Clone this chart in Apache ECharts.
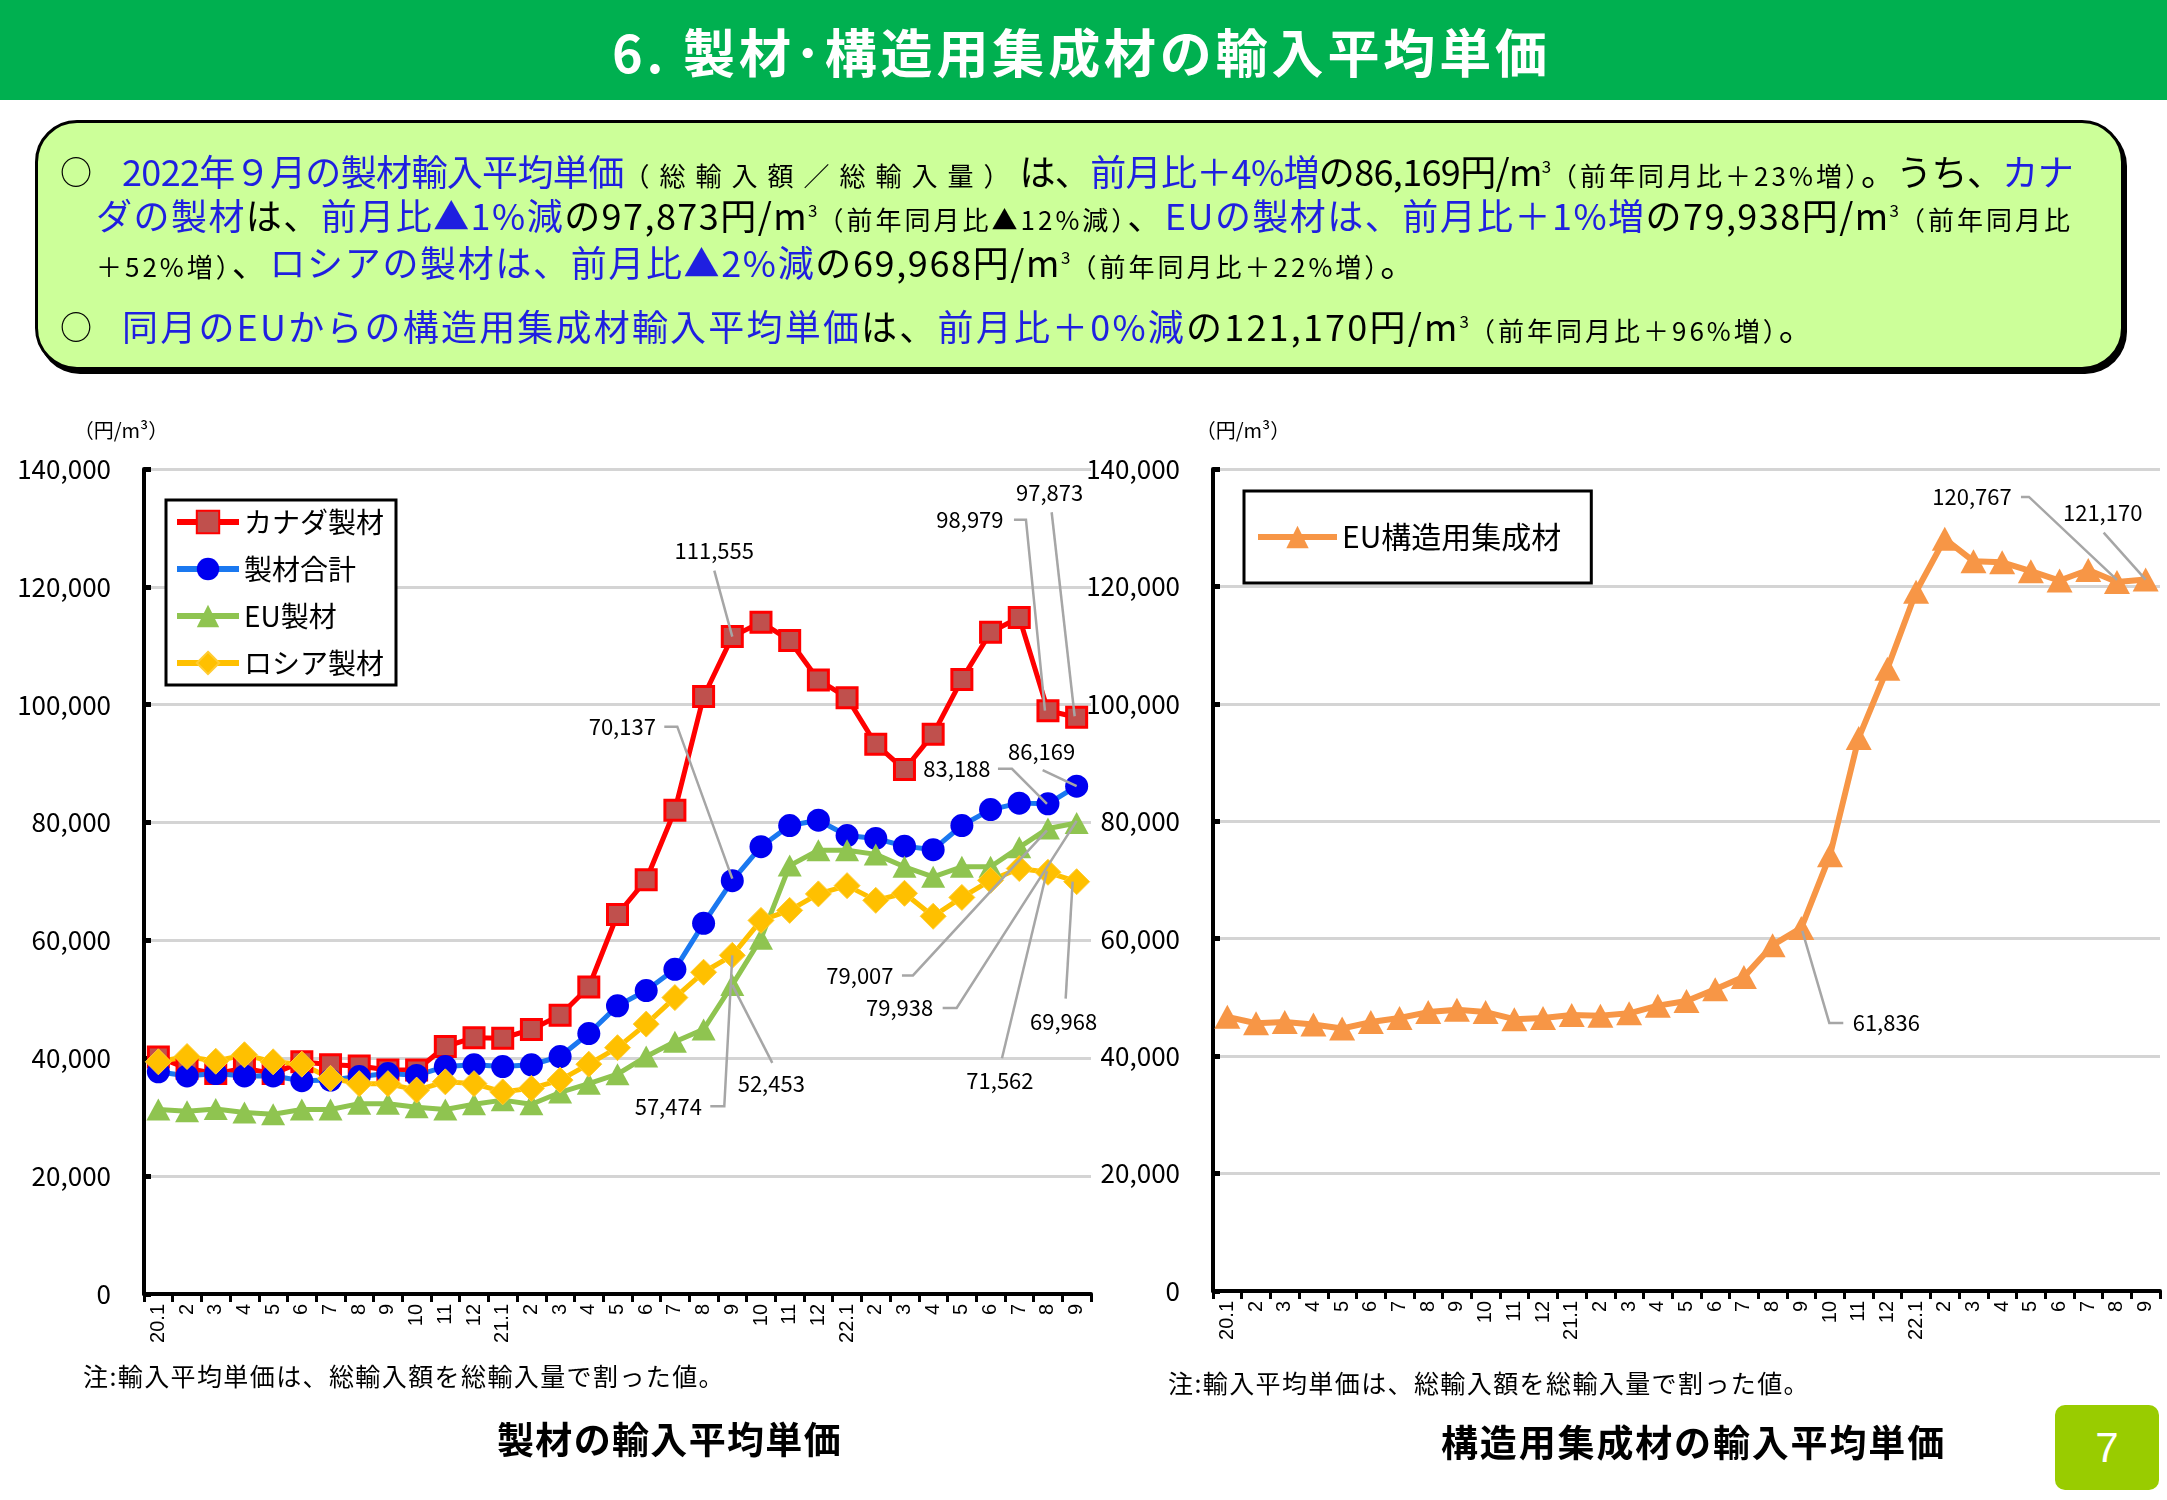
<!DOCTYPE html>
<html><head><meta charset="utf-8">
<script src="https://cdn.jsdelivr.net/npm/echarts@6/dist/echarts.min.js"></script>
<style>
body{margin:0;width:2167px;height:1500px;position:relative;background:#fff;font-family:"Noto Sans CJK JP","Noto Sans",sans-serif;overflow:hidden}
#chart{position:absolute;left:0;top:0;width:2167px;height:1500px}
.header{position:absolute;left:0;top:0;width:2167px;height:100px;background:#00b050}
.title{position:absolute;left:612px;top:20px;white-space:nowrap;color:#fff;font-weight:bold;font-size:52px;line-height:62px}
.box{position:absolute;left:35px;top:120px;width:2083px;height:244px;border:3px solid #000;border-radius:42px;background:#ccff99;box-shadow:3px 4px 0 #000}
.line{position:absolute;white-space:nowrap;font-size:36px;line-height:40px;color:#000}
.circ{position:absolute;font-size:32px;line-height:40px;color:#000}
.b{color:#1f1fe0}
.s{font-size:26px;letter-spacing:3px}
.s2{letter-spacing:10px}
sup{font-size:17px;vertical-align:top;position:relative;top:-4px;letter-spacing:0}
.note{position:absolute;white-space:nowrap;font-size:25px;line-height:32px;color:#000}
.ctitle{position:absolute;white-space:nowrap;font-size:37px;font-weight:bold;line-height:46px;color:#000}
.page{position:absolute;left:2055px;top:1405px;width:104px;height:85px;background:#99cc00;border-radius:10px;color:#fff;font-size:42px;line-height:85px;text-align:center;font-family:"Liberation Sans",sans-serif}
</style></head>
<body>
<div id="chart"></div>
<div class="header"></div>
<div class="title fit" data-w="939">6. 製材･構造用集成材の輸入平均単価</div>
<div class="box"></div>
<div class="circ" style="left:60px;top:150px">○</div>
<div class="circ" style="left:60px;top:305px">○</div>
<div class="line fit" style="left:122px;top:150px" data-w="1951"><span class="b">2022年９月の製材輸入平均単価</span><span class="s s2">（総輸入額／総輸入量）</span>は、<span class="b">前月比＋4%増</span>の86,169円/m<sup>3</sup><span class="s">（前年同月比＋23%増）</span>。うち、<span class="b">カナ</span></div>
<div class="line fit" style="left:96px;top:194px" data-w="1977"><span class="b">ダの製材</span>は、<span class="b">前月比▲1%減</span>の97,873円/m<sup>3</sup><span class="s">（前年同月比▲12%減）</span>、<span class="b">EUの製材は、前月比＋1%増</span>の79,938円/m<sup>3</sup><span class="s">（前年同月比</span></div>
<div class="line fit" style="left:96px;top:241px" data-w="1322"><span class="s">＋52%増）</span>、<span class="b">ロシアの製材は、前月比▲2%減</span>の69,968円/m<sup>3</sup><span class="s">（前年同月比＋22%増）</span>。</div>
<div class="line fit" style="left:122px;top:305px" data-w="1695"><span class="b">同月のEUからの構造用集成材輸入平均単価</span>は、<span class="b">前月比＋0%減</span>の121,170円/m<sup>3</sup><span class="s">（前年同月比＋96%増）</span>。</div>
<div class="note fit" style="left:83px;top:1359px" data-w="642">注:輸入平均単価は、総輸入額を総輸入量で割った値。</div>
<div class="note fit" style="left:1168px;top:1366px" data-w="642">注:輸入平均単価は、総輸入額を総輸入量で割った値。</div>
<div class="ctitle fit" style="left:497px;top:1415px" data-w="345">製材の輸入平均単価</div>
<div class="ctitle fit" style="left:1441px;top:1418px" data-w="505">構造用集成材の輸入平均単価</div>
<div class="page">7</div>
<script>
// ---- data ----
const months = ['2020-01','2020-02','2020-03','2020-04','2020-05','2020-06','2020-07','2020-08','2020-09','2020-10','2020-11','2020-12',
  '2021-01','2021-02','2021-03','2021-04','2021-05','2021-06','2021-07','2021-08','2021-09','2021-10','2021-11','2021-12',
  '2022-01','2022-02','2022-03','2022-04','2022-05','2022-06','2022-07','2022-08','2022-09'];
const tickLabels = ['20.1','2','3','4','5','6','7','8','9','10','11','12',
  '21.1','2','3','4','5','6','7','8','9','10','11','12',
  '22.1','2','3','4','5','6','7','8','9'];
const yTicks = [0,20000,40000,60000,80000,100000,120000,140000];
const canada = [40200,38300,37400,38300,37400,39400,38900,38700,38000,38000,42000,43500,
  43400,44900,47300,52100,64400,70300,82100,101400,111555,114000,110900,104200,
  101200,93300,89000,95000,104300,112300,114800,98979,97873];
const total = [37700,37000,37400,37000,37000,36200,36300,36900,37400,37100,38600,38900,
  38600,38900,40300,44200,48900,51500,55100,62900,70137,75900,79500,80400,
  77800,77300,76000,75400,79500,82200,83300,83188,86169];
const eu = [31300,31000,31400,30800,30500,31300,31300,32300,32300,31700,31300,32200,
  32900,32200,34200,35700,37300,40300,42800,44900,52453,60300,72700,75300,
  75300,74600,72500,70800,72500,72500,75800,79007,79938];
const russia = [39400,40300,39500,40600,39400,39000,36600,35700,35700,34600,36000,35700,
  34300,34900,36300,39000,41800,45800,50300,54600,57474,63400,65100,67900,
  69300,66800,68000,64100,67300,70200,72200,71562,69968];
const euGlulam = [46700,45600,45800,45400,44700,45800,46500,47500,47900,47500,46300,46500,
  47000,46900,47300,48600,49400,51400,53500,58900,61836,74200,94200,106000,
  119100,128100,124300,124100,122600,121000,122800,120767,121170];
const seriesNames = ['カナダ製材','製材合計','EU製材','ロシア製材','EU構造用集成材'];
const unitLabel = '（円/m³）';

// ---- fit text widths (spacing applied to characters outside small spans) ----
document.querySelectorAll('.fit').forEach(el=>{
  const target = +el.dataset.w;
  el.style.letterSpacing = '0px';
  const w = el.getBoundingClientRect().width;
  let n = [...el.textContent].length;
  el.querySelectorAll('.s').forEach(s=>{ n -= [...s.textContent].length; });
  el.querySelectorAll('sup').forEach(s=>{ n -= [...s.textContent].length; });
  el.style.letterSpacing = ((target - w) / n) + 'px';
});

const FONT = '"Noto Sans CJK JP","Noto Sans",sans-serif';
const chart = echarts.init(document.getElementById('chart'), null, {renderer:'canvas'});

function xAxis(gi){
  return {type:'category', gridIndex:gi, data:months, boundaryGap:true,
    axisLine:{show:true, lineStyle:{color:'#000', width:4}},
    axisTick:{show:true, interval:0, length:8, lineStyle:{color:'#000', width:3}},
    axisLabel:{interval:0, rotate:90, fontSize:20, color:'#000', margin:10, fontFamily:'"Liberation Sans",sans-serif',
      formatter:(v,i)=>tickLabels[i]},
    splitLine:{show:false}};
}
function yAxis(gi){
  return {type:'value', gridIndex:gi, min:yTicks[0], max:yTicks[yTicks.length-1], interval:yTicks[1]-yTicks[0],
    axisLine:{show:true, lineStyle:{color:'#000', width:4}},
    axisTick:{show:true, inside:true, length:7, lineStyle:{color:'#000', width:5}},
    axisLabel:{fontSize:26, color:'#000', margin:33, fontFamily:FONT},
    splitLine:{show:true, lineStyle:{color:'#d4d4d4', width:3}}};
}
function lineSeries(name, data, gi, sym, size, col, lineCol, border, lw){
  return {name, type:'line', xAxisIndex:gi, yAxisIndex:gi, data, symbol:sym, symbolSize:size,
    showAllSymbol:true, animation:false, emphasis:{disabled:true},
    lineStyle:{color:lineCol, width:lw||5},
    itemStyle:Object.assign({color:col}, border||{})};
}
const option = {
  animation:false,
  grid:[
    {left:144, top:469, width:947, height:825, outerBoundsMode:'none', containLabel:false},
    {left:1213, top:469, width:947, height:822, outerBoundsMode:'none', containLabel:false}
  ],
  xAxis:[xAxis(0), xAxis(1)],
  yAxis:[yAxis(0), yAxis(1)],
  legend:[
    {data:seriesNames.slice(0,4), orient:'vertical', left:166, top:500, itemWidth:62, itemHeight:28, itemGap:19,
      padding:[8,12,8,8], borderColor:'#000', borderWidth:3, backgroundColor:'#fff',
      lineStyle:{width:6}, textStyle:{fontSize:28, color:'#000', fontFamily:FONT}, selectedMode:false},
    {data:[seriesNames[4]], orient:'vertical', left:1244, top:491, itemWidth:79, itemHeight:28,
      padding:[31,30,31,11], borderColor:'#000', borderWidth:3, backgroundColor:'#fff',
      lineStyle:{width:6}, textStyle:{fontSize:30, color:'#000', fontFamily:FONT}, selectedMode:false}
  ],
  series:[
    lineSeries(seriesNames[0], canada, 0, 'rect', 20, '#c0504d', '#ff0000', {borderColor:'#ff0000', borderWidth:3}),
    lineSeries(seriesNames[1], total, 0, 'circle', 23, '#0000f0', '#1a78f0'),
    lineSeries(seriesNames[2], eu, 0, 'triangle', [24,22], '#8fc450', '#8fc450'),
    lineSeries(seriesNames[3], russia, 0, 'diamond', [26,26], '#ffc000', '#ffc000', {borderColor:'#ffcc33', borderWidth:1}),
    lineSeries(seriesNames[4], euGlulam, 1, 'triangle', [26,24], '#f79646', '#f79646', null, 6)
  ]
};
chart.setOption(option);

// ---- annotation labels with leader lines (offsets relative to the data point) ----
const seriesData = [canada, total, eu, russia, euGlulam];
const annotations = [
  {s:0, i:20, t:[-18,-86], path:[[-18,-66],[0,0]]},
  {s:1, i:20, t:[-110,-154], path:[[-68,-154],[-55,-154],[0,-2]]},
  {s:0, i:31, t:[-78,-191], path:[[-34,-191],[-22,-191],[-3,0]]},
  {s:0, i:32, t:[-27,-225], path:[[-25,-205],[-2,-1]]},
  {s:1, i:32, t:[-35,-35], path:[[-34,-16],[0,0]]},
  {s:1, i:31, t:[-91,-35], path:[[-50,-35],[-36,-35],[-1,0]]},
  {s:2, i:31, t:[-188,147], path:[[-146,147],[-135,147],[-1,2]]},
  {s:2, i:32, t:[-177,185], path:[[-134,185],[-120,185],[0,-2]]},
  {s:3, i:32, t:[-13,140], path:[[-11,117],[-4,0]]},
  {s:3, i:31, t:[-48,208], path:[[-46,186],[-1,-1]]},
  {s:2, i:20, t:[39,99], path:[[40,78],[0,0]]},
  {s:3, i:20, t:[-64,151], path:[[-22,151],[-8,151],[0,0]]},
  {s:4, i:31, t:[-145,-85], path:[[-96,-85],[-88,-85],[0,-2]]},
  {s:4, i:32, t:[-43,-67], path:[[-42,-47],[0,0]]},
  {s:4, i:20, t:[85,95], path:[[42,95],[28,95],[1,3]]}
];
const fmt = v => v.toString().replace(/\B(?=(\d{3})+(?!\d))/g, ',');
const graphics = [];
annotations.forEach(a=>{
  const p = chart.convertToPixel({seriesIndex:a.s}, [a.i, seriesData[a.s][a.i]]);
  graphics.push({type:'polyline', z:100, silent:true,
    shape:{points:a.path.map(q=>[p[0]+q[0], p[1]+q[1]])},
    style:{stroke:'#a6a6a6', lineWidth:2.5, fill:null}});
  graphics.push({type:'text', z:101, silent:true, x:p[0]+a.t[0], y:p[1]+a.t[1],
    style:{text:fmt(seriesData[a.s][a.i]), fill:'#000', fontSize:22, fontFamily:FONT,
      align:'center', verticalAlign:'middle', textAlign:'center', textVerticalAlign:'middle'}});
});
[[121,430],[1243,430]].forEach(pos=>{
  graphics.push({type:'text', z:101, silent:true, x:pos[0], y:pos[1],
    style:{text:unitLabel, fill:'#000', fontSize:20, fontFamily:FONT, align:'center', verticalAlign:'middle', textAlign:'center', textVerticalAlign:'middle'}});
});
chart.setOption({graphic:{elements:graphics}});
</script>
</body></html>
